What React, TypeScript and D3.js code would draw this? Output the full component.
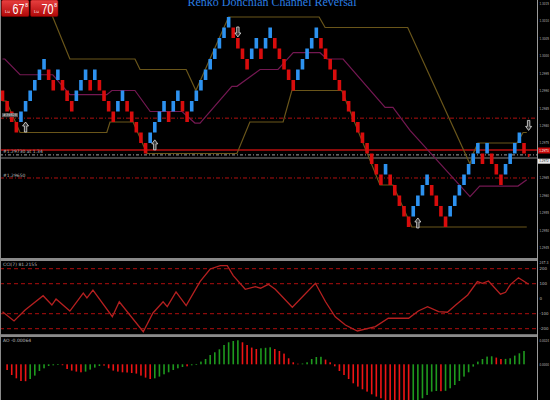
import React from 'react';
import * as d3 from 'd3';

// ---------- data ----------
const brickBase = 1.2951;
const brickSize = 0.0003;
// bottom level of each renko brick (in brick units above base)
const brickLow = [
  12, 11, 10, 9, 10, 11, 12, 13, 14, 15,
  14, 13, 14, 13, 12, 11, 12, 13, 14, 13,
  14, 13, 12, 11, 10, 11, 12, 11, 10, 9,
  8, 7, 8, 9, 10, 11, 10, 11, 12, 11,
  10, 11, 12, 13, 14, 15, 16, 17, 18, 19,
  18, 17, 16, 15, 16, 17, 16, 17, 18, 17,
  16, 15, 14, 13, 14, 15, 16, 17, 18, 17,
  16, 15, 14, 13, 12, 11, 10, 9, 8, 7,
  6, 5, 4, 5, 4, 3, 2, 1, 0, 1,
  2, 3, 4, 3, 2, 1, 0, 1, 2, 3,
  4, 5, 6, 7, 6, 7, 6, 5, 4, 5,
  6, 7, 8, 7,
];
const brickDir = (
  'dddd' + 'uuuuuu' + 'dd' + 'u' + 'ddd' + 'uuu' + 'd' + 'u' + 'dddd' + 'uu' +
  'ddddd' + 'uuuu' + 'd' + 'uu' + 'dd' + 'uuuuuuuuu' + 'dddd' + 'uu' + 'd' + 'uu' +
  'ddddd' + 'uuuuu' + 'dddddddddddddd' + 'u' + 'ddddd' + 'uuuu' + 'dddd' +
  'uuuuuuu' + 'd' + 'u' + 'ddd' + 'uuuu' + 'd'
).split('');

// Donchian channel vertices: [brick index, level]
const upperBand = [[9.4, 21.6], [14.6, 16], [28.7, 16], [29.8, 15], [39.8, 15], [41.9, 13], [49, 20], [68.6, 20], [69.9, 19], [87.8, 19], [101.3, 6], [102, 7], [103, 8], [111.5, 8], [112.8, 9], [113.6, 9]];
const lowerBand = [[0, 12], [0.8, 12], [3.8, 9], [22.6, 9], [23.3, 10], [28.3, 10], [31.3, 7], [50.8, 7], [53.6, 10], [60.8, 10], [62.7, 13], [73.5, 13], [81.8, 4], [84.6, 4], [88.7, 0], [113.6, 0]];
const midBand = [[0, 16], [0.5, 16], [3.8, 14.5], [10.9, 14.5], [14.6, 12.6], [22.6, 12.6], [23.7, 13], [28.7, 13], [32, 11], [38.9, 11], [41.7, 9.9], [42.8, 9.9], [49.7, 13.4], [50.8, 13.4], [55.8, 15], [59.7, 15], [63, 16.6], [68.8, 16.6], [70.3, 16], [73.8, 16], [82.9, 11.4], [84.6, 11.4], [88.3, 9.2], [101.3, 2.9], [103.4, 3.9], [111.7, 3.9], [113.6, 4.5]];

// reversal arrows: [brick index, level of tip]
const arrowsUp = [[5, 10.0], [33, 8.3], [90, 0.86]];
const arrowsDown = [[51, 18.1], [114, 9.2]];

// horizontal price lines
const priceLines = [1.29821, 1.2973, 1.29716, 1.29707, 1.2965];
const priceTicks = [1.3015, 1.3010, 1.3005, 1.3000, 1.2995, 1.2990, 1.2985, 1.2980, 1.2975, 1.2965, 1.2960, 1.2955, 1.2950, 1.2945];
const bidPrice = 1.2973;
const askPrice = 1.29716;

// CCI vertices: [brick index, value]
const cci = [[0, -87], [2.5, -149], [4.9, -76], [8.8, 19], [10.7, -43], [11.6, -3], [14.6, -83], [17.5, 37], [18.3, 4], [19.6, 57], [23.8, -121], [25.3, -21], [30.5, -221], [32.6, -96], [34.8, -21], [35.7, -54], [37.6, 44], [39.8, -47], [42.8, 113], [45, 197], [47.2, 219], [48.7, 219], [50, 153], [52.6, 62], [54.8, 79], [55.9, 69], [57.6, 95], [59.1, 62], [62.8, -58], [67.8, 102], [70, -21], [72.1, -121], [74.3, -176], [76.9, -216], [80.8, -187], [83.6, -131], [88, -131], [90.1, -83], [92.1, -54], [94.5, -87], [96.4, -91], [98.2, -43], [100.8, 24], [102.9, 113], [104, 102], [105.3, 117], [107.9, 29], [109, 42], [110.1, 95], [111.8, 139], [114, 95]];
const cciLevels = [200, 100, -100, -200];
const cciTicks = [200, 100, 0, -100, -200];

// AO histogram (units of 0.0001), one per brick starting at brick 1
const histValues = [
  -5.7, -10.7, -14, -16.7, -16.9, -14.7, -11.3, -6.7, -4, -1.7,
  -1, -0.7, -0.9, -4.7, -6.3, -7.3, -8, -7.3, -5.3, -3.3,
  -1.7, -1.3, -4, -6.3, -7.3, -8, -8.2, -8.7, -9.3, -11.3,
  -13.3, -14.7, -14, -12.3, -10, -8, -5.7, -4, -2.7, -2,
  -1, -0.7, 2.7, 5.3, 9.3, 12, 15, 19.3, 22, 23.3,
  24, 22, 19.3, 16.7, 15.3, 16, 16.5, 17, 15.3, 13.3,
  10.7, 6, 2, 0.6, 0.8, 2, 5.3, 7.3, 7.5, 4.7,
  2, -2, -6.7, -10.7, -14.7, -19, -22.3, -25, -27.3, -30,
  -32.3, -34, -36, -37.5, -38.5, -39, -39, -38.5, -38, -37,
  -34, -30.7, -27.3, -26.7, -26.9, -26.5, -24, -20.7, -16.7, -12.3,
  -8, -2.3, 2.7, 5.3, 7.7, 8, 6.7, 5.3, 5.4, 6,
  8.7, 11, 13.3,
];
const histDir = (
  'ddddd' + 'uuuuuuu' + 'ddddd' + 'uuuu' + 'ddddddddddd' + 'uuuuuuu' + 'd' +
  'uuuuuuuuuuu' + 'dddd' + 'uuu' + 'dddddd' + 'uuuuu' + 'ddddddddddddddddddd' +
  'uuuuuu' + 'd' + 'uuuuuuuuuuu' + 'dd' + 'uuuuu'
).split('');
const histTicks = [24, 0];

// ---------- component ----------
const W = 550;
const H = 400;
const AXIS_X = 537;
const MAIN_BOTTOM = 258;

export default function App() {
  const x = d3.scaleLinear().domain([0, 113]).range([2.5, 524]);
  const yMain = d3.scaleLinear().domain([1.294214, 1.301586]).range([MAIN_BOTTOM, 0]);
  const lv = (l: number) => yMain(brickBase + l * brickSize);
  const yCci = d3.scaleLinear().domain([-236, 247]).range([334, 261.5]);
  const yHist = d3.scaleLinear().domain([-35.7, 26.3]).range([400, 338]);

  const bandLine = d3.line<number[]>().x(d => x(d[0])).y(d => lv(d[1]));
  const cciLine = d3.line<number[]>().x(d => x(d[0])).y(d => yCci(d[1]));

  const bw = 3.6;
  const small = { fontFamily: 'DejaVu Sans, sans-serif', fontSize: 4.5, fill: '#b8b8b8' } as const;
  const axisTxt = { fontFamily: 'DejaVu Sans, sans-serif', fontSize: 4, fill: '#b8b8b8' } as const;

  const upArrow = (cx: number, ty: number) =>
    `M${cx},${ty} L${cx + 3},${ty + 4} L${cx + 1.2},${ty + 4} L${cx + 1.2},${ty + 10} L${cx - 1.2},${ty + 10} L${cx - 1.2},${ty + 4} L${cx - 3},${ty + 4} Z`;
  const downArrow = (cx: number, by: number) =>
    `M${cx},${by} L${cx + 3},${by - 4} L${cx + 1.2},${by - 4} L${cx + 1.2},${by - 10} L${cx - 1.2},${by - 10} L${cx - 1.2},${by - 4} L${cx - 3},${by - 4} Z`;

  const lineStyles = [
    { stroke: '#b01010', dash: '4,2,1,2', w: 1 },
    { stroke: '#8a0a0a', dash: undefined, w: 2 },
    { stroke: '#c8c8c8', dash: '3,2,1,2', w: 0.8 },
    { stroke: '#5a5a5a', dash: undefined, w: 1.5 },
    { stroke: '#b01010', dash: '4,2,1,2', w: 1 },
  ];

  return (
    <svg width={W} height={H} style={{ position: 'fixed', left: 0, top: 0, background: '#000' }}>
      <defs>
        <clipPath id="mainClip"><rect x={0} y={0} width={AXIS_X} height={MAIN_BOTTOM} /></clipPath>
        <clipPath id="cciClip"><rect x={0} y={261} width={AXIS_X} height={73} /></clipPath>
        <clipPath id="histClip"><rect x={0} y={337} width={AXIS_X} height={63} /></clipPath>
        <linearGradient id="badge" x1="0" y1="0" x2="0" y2="1">
          <stop offset="0" stopColor="#e84040" />
          <stop offset="1" stopColor="#b00808" />
        </linearGradient>
      </defs>
      <rect x={0} y={0} width={W} height={H} fill="#000" />

      {/* main panel */}
      <g clipPath="url(#mainClip)">
        {priceLines.map((p, k) => (
          <line key={'pl' + k} x1={0} x2={AXIS_X} y1={yMain(p)} y2={yMain(p)}
            stroke={lineStyles[k].stroke} strokeWidth={lineStyles[k].w} strokeDasharray={lineStyles[k].dash} />
        ))}
        <path d={bandLine(upperBand) || ''} fill="none" stroke="#6a561a" strokeWidth={1.2} />
        <path d={bandLine(lowerBand) || ''} fill="none" stroke="#6a561a" strokeWidth={1.2} />
        <path d={bandLine(midBand) || ''} fill="none" stroke="#741852" strokeWidth={1.2} />
        {brickLow.map((b, i) => (
          <rect key={'b' + i} x={x(i) - bw / 2} y={lv(b + 1)} width={bw} height={lv(b) - lv(b + 1)}
            fill={brickDir[i] === 'u' ? '#2d92f0' : '#d80c0c'} />
        ))}
        <rect x={x(114) - 0.8} y={lv(7) + 0.5} width={1.6} height={3} fill="#d80c0c" />
        {arrowsUp.map((a, k) => (
          <path key={'au' + k} d={upArrow(x(a[0]), lv(a[1]))} fill="#3a3a3a" stroke="#e0e0e0" strokeWidth={0.8} />
        ))}
        {arrowsDown.map((a, k) => (
          <path key={'ad' + k} d={downArrow(x(a[0]), lv(a[1]))} fill="#3a3a3a" stroke="#e0e0e0" strokeWidth={0.8} />
        ))}
        <rect x={2} y={yMain(priceLines[0]) - 5} width={16} height={4} fill="#555" />
        <text x={3} y={yMain(priceLines[0]) - 1.8} style={{ ...small, fontSize: 3.5, fill: '#ddd' }}>#39828</text>
        <text x={3} y={yMain(priceLines[1]) + 3.5} style={small}>#1.29730 at 1.34</text>
        <text x={3} y={yMain(priceLines[4]) - 1} style={small}>#1.29650</text>
      </g>

      {/* title */}
      <text x={272} y={6} textAnchor="middle" fill="#2a7de1"
        style={{ fontFamily: 'Liberation Serif, serif', fontSize: 12 }}>Renko Donchian Channel Reversal</text>

      {/* badges */}
      {[{ x0: 1.5, v: '67' }, { x0: 30.5, v: '70' }].map((bd, k) => (
        <g key={'bd' + k}>
          <rect x={bd.x0} y={0} width={27.5} height={16.5} rx={1.5} fill="url(#badge)" stroke="#8a0000" strokeWidth={0.5} />
          <text x={bd.x0 + 3.5} y={12.5} style={{ fontFamily: 'DejaVu Sans, sans-serif', fontSize: 4.2, fill: '#fbe0e0' }}>Lu</text>
          <text x={bd.x0 + 11} y={14} textLength={12} lengthAdjust="spacingAndGlyphs"
            style={{ fontFamily: 'Liberation Sans, Arial, sans-serif', fontSize: 14, fill: '#fff' }}>{bd.v}</text>
          <text x={bd.x0 + 23.8} y={6.5} style={{ fontFamily: 'Liberation Sans, sans-serif', fontSize: 5, fill: '#fff' }}>8</text>
        </g>
      ))}

      {/* panel separators */}
      <rect x={0} y={258} width={AXIS_X} height={3} fill="#8a8a8a" />
      <rect x={0} y={334.2} width={AXIS_X} height={2.8} fill="#8a8a8a" />

      {/* CCI panel */}
      <g clipPath="url(#cciClip)">
        {cciLevels.map((v, k) => (
          <line key={'cl' + k} x1={0} x2={AXIS_X} y1={yCci(v)} y2={yCci(v)} stroke="#8b0b0b" strokeWidth={1.2} strokeDasharray="4,3" />
        ))}
        <path d={cciLine(cci) || ''} fill="none" stroke="#b52020" strokeWidth={1.3} />
        <text x={3} y={266} style={small}>CCI(7) 81.2155</text>
      </g>

      {/* AO histogram */}
      <g clipPath="url(#histClip)">
        {histValues.map((v, j) => (
          <rect key={'h' + j} x={x(j + 1) - 0.8} width={1.6}
            y={Math.min(yHist(v), yHist(0))} height={Math.abs(yHist(v) - yHist(0))}
            fill={histDir[j] === 'u' ? '#1e9a1e' : '#ee1414'} />
        ))}
        <text x={3} y={342} style={small}>AO -0.00064</text>
      </g>

      {/* frame */}
      <line x1={0.5} x2={0.5} y1={0} y2={H} stroke="#8a8a8a" strokeWidth={1} />
      <line x1={AXIS_X + 0.5} x2={AXIS_X + 0.5} y1={0} y2={H} stroke="#9a9a9a" strokeWidth={1} />

      {/* right axis labels */}
      {priceTicks.map((p, k) => (
        <text key={'pt' + k} x={539.5} y={yMain(p) + 1.5} textLength={9.5} lengthAdjust="spacingAndGlyphs" style={axisTxt}>{p.toFixed(4)}</text>
      ))}
      <rect x={AXIS_X + 1} y={yMain(bidPrice) - 2.5} width={12} height={6} fill="#c80a0a" />
      <text x={539.2} y={yMain(bidPrice) + 1.8} textLength={9.5} lengthAdjust="spacingAndGlyphs" style={{ ...axisTxt, fill: '#fff' }}>{bidPrice.toFixed(4)}</text>
      <rect x={AXIS_X + 1} y={yMain(askPrice) + 3.8} width={12} height={5} fill="#e8e8e8" />
      <text x={539.2} y={yMain(askPrice) + 7.6} textLength={9.5} lengthAdjust="spacingAndGlyphs" style={{ ...axisTxt, fill: '#222' }}>{askPrice.toFixed(4)}</text>
      <text x={539.5} y={264} textLength={9} lengthAdjust="spacingAndGlyphs" style={axisTxt}>247.3</text>
      {cciTicks.map((v, k) => (
        <text key={'ct' + k} x={539.5} y={yCci(v) + 1.5} style={axisTxt}>{v}</text>
      ))}
      {histTicks.map((v, k) => (
        <text key={'ht' + k} x={539.5} y={yHist(v) + 1.5} textLength={9.5} lengthAdjust="spacingAndGlyphs" style={axisTxt}>{(v / 10000).toFixed(4)}</text>
      ))}
    </svg>
  );
}
